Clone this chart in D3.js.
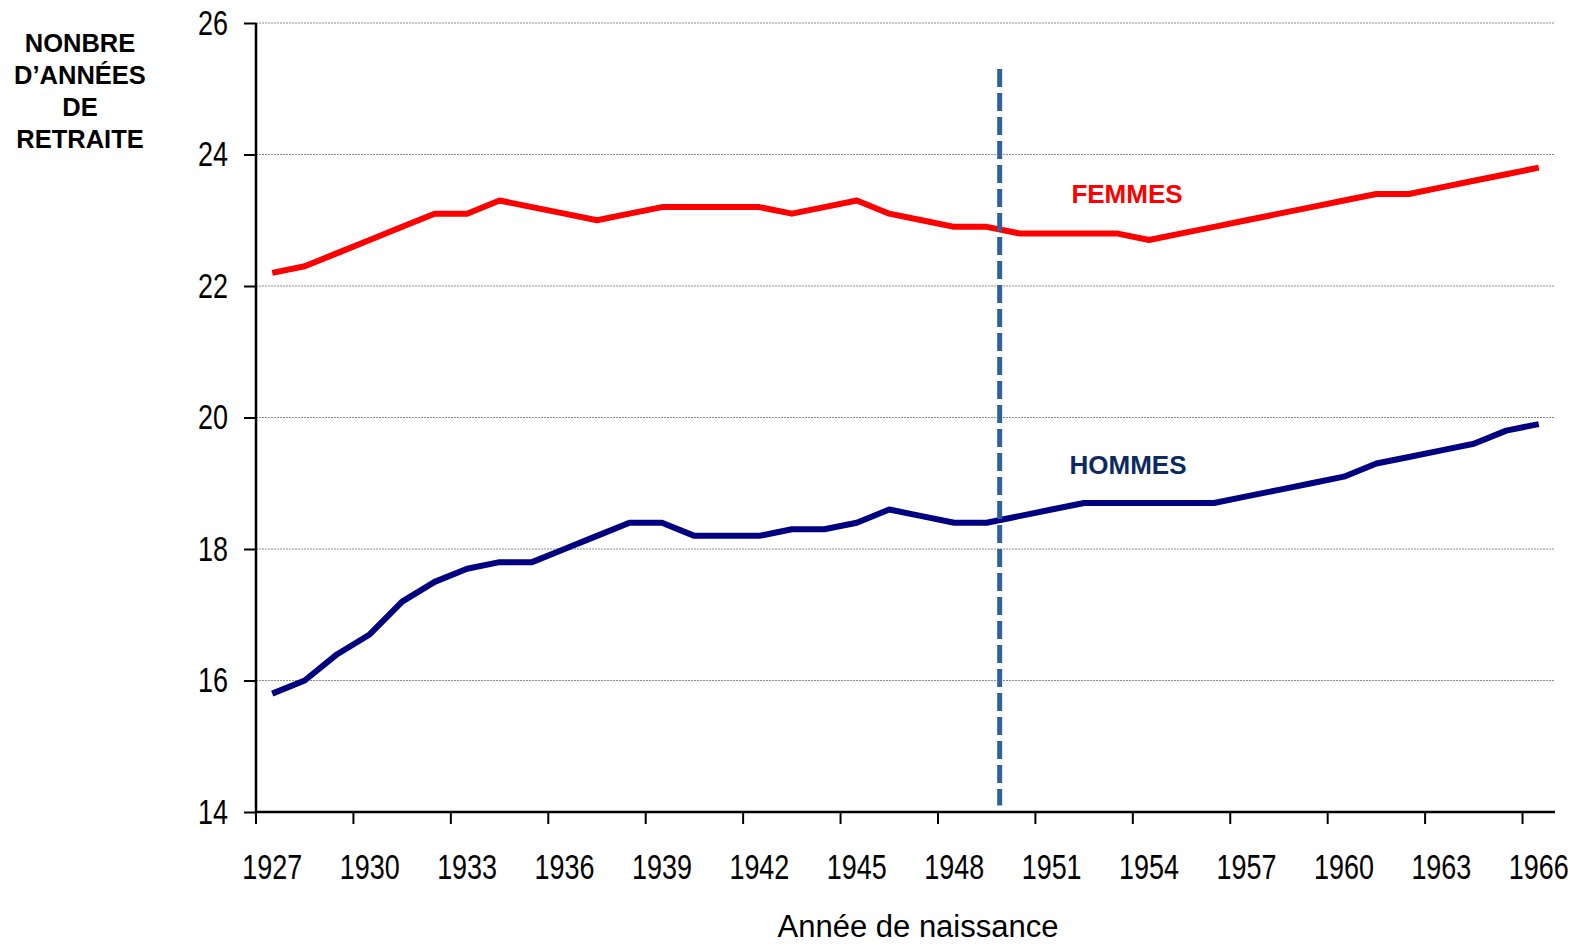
<!DOCTYPE html>
<html>
<head>
<meta charset="utf-8">
<script src="https://cdn.jsdelivr.net/npm/d3@7"></script>
<style>
  body { margin: 0; background: #fff; }
  svg { display: block; }
</style>
</head>
<body>
<div id="chart"></div>
<script>
// data
const years = ["1927","1928","1929","1930","1931","1932","1933","1934","1935","1936",
               "1937","1938","1939","1940","1941","1942","1943","1944","1945","1946",
               "1947","1948","1949","1950","1951","1952","1953","1954","1955","1956",
               "1957","1958","1959","1960","1961","1962","1963","1964","1965","1966"];
const femmes = [22.2, 22.3, 22.5, 22.7, 22.9, 23.1, 23.1, 23.3, 23.2, 23.1,
                23.0, 23.1, 23.2, 23.2, 23.2, 23.2, 23.1, 23.2, 23.3, 23.1,
                23.0, 22.9, 22.9, 22.8, 22.8, 22.8, 22.8, 22.7, 22.8, 22.9,
                23.0, 23.1, 23.2, 23.3, 23.4, 23.4, 23.5, 23.6, 23.7, 23.8];
const hommes = [15.8, 16.0, 16.4, 16.7, 17.2, 17.5, 17.7, 17.8, 17.8, 18.0,
                18.2, 18.4, 18.4, 18.2, 18.2, 18.2, 18.3, 18.3, 18.4, 18.6,
                18.5, 18.4, 18.4, 18.5, 18.6, 18.7, 18.7, 18.7, 18.7, 18.7,
                18.8, 18.9, 19.0, 19.1, 19.3, 19.4, 19.5, 19.6, 19.8, 19.9];
const xTickLabels = ["1927","1930","1933","1936","1939","1942","1945","1948",
                     "1951","1954","1957","1960","1963","1966"];
const yTicks = [14, 16, 18, 20, 22, 24, 26];
const markerYear = "1949";      // dashed separator, just before 1950
const markerRange = [14.1, 25.3];

lineChart();

function lineChart() {

    let margin = { top: 23, right: 18, bottom: 133, left: 256 },
        width = 1573 - margin.left - margin.right,
        height = 945 - margin.top - margin.bottom;

    let svg = d3.select("#chart").append("svg")
        .attr("width", width + margin.left + margin.right)
        .attr("height", height + margin.top + margin.bottom)
        .append("g")
        .attr("transform", "translate(" + margin.left + "," + margin.top + ")");

    let x = d3.scaleBand().domain(years).range([0, width]).padding(0);
    let y = d3.scaleLinear().domain([14, 26]).range([height, 0]);
    let bw = x.bandwidth();
    let squeeze = 0.77;   // tick labels are set in a condensed face

    // gridlines
    svg.append("g")
        .selectAll("line")
        .data(yTicks.slice(1))
        .enter()
        .append("line")
        .attr("x1", 0)
        .attr("x2", width)
        .attr("y1", d => y(d))
        .attr("y2", d => y(d))
        .attr("stroke", "#8a8a8a")
        .attr("stroke-width", 1)
        .attr("stroke-dasharray", "2,1");

    // lines
    let line = d3.line()
        .x((d, i) => x(years[i]) + bw / 2)
        .y(d => y(d));

    svg.append("path")
        .datum(femmes)
        .attr("fill", "none")
        .attr("stroke", "#ff0000")
        .attr("stroke-width", 6)
        .attr("stroke-linejoin", "round")
        .attr("d", line);

    svg.append("path")
        .datum(hommes)
        .attr("fill", "none")
        .attr("stroke", "#000080")
        .attr("stroke-width", 6)
        .attr("stroke-linejoin", "round")
        .attr("d", line);

    // dashed separator
    svg.append("line")
        .attr("x1", x(markerYear) + bw * 0.9)
        .attr("x2", x(markerYear) + bw * 0.9)
        .attr("y1", y(markerRange[1]))
        .attr("y2", y(markerRange[0]))
        .attr("stroke", "#2e6399")
        .attr("stroke-width", 5)
        .attr("stroke-dasharray", "18,6");

    // x axis
    let xAxis = svg.append("g")
        .attr("transform", "translate(0," + height + ")")
        .call(d3.axisBottom(x).tickValues(xTickLabels).tickSize(12).tickPadding(30));
    xAxis.selectAll(".tick line")
        .attr("x1", -bw / 2)
        .attr("x2", -bw / 2)
        .attr("stroke-width", 2);
    xAxis.select(".domain")
        .attr("d", "M0,0H" + width)
        .attr("stroke-width", 2.5);
    xAxis.selectAll("text")
        .attr("transform", "scale(" + squeeze + ",1)")
        .style("font-family", "'Liberation Sans', Arial, sans-serif")
        .style("font-size", "35px")
        .attr("fill", "#000");

    // y axis
    let yAxis = svg.append("g")
        .call(d3.axisLeft(y).tickValues(yTicks).tickSize(12).tickPadding(16));
    yAxis.selectAll(".tick line").attr("stroke-width", 2);
    yAxis.select(".domain")
        .attr("d", "M0," + height + "V0")
        .attr("stroke-width", 2.5);
    yAxis.selectAll("text")
        .attr("x", 0)
        .attr("transform", "translate(-28,0) scale(" + squeeze + ",1)")
        .style("font-family", "'Liberation Sans', Arial, sans-serif")
        .style("font-size", "35px")
        .attr("fill", "#000");

    // axis titles
    svg.append("text")
        .attr("x", 918 - margin.left)
        .attr("y", 937 - margin.top)
        .style("text-anchor", "middle")
        .style("font-family", "'Liberation Sans', Arial, sans-serif")
        .style("font-size", "31px")
        .text("Année de naissance");

    let yTitle = svg.append("text")
        .attr("y", 0)
        .style("text-anchor", "middle")
        .style("font-family", "'Liberation Sans', Arial, sans-serif")
        .style("font-weight", "bold")
        .style("font-size", "25.5px");
    ["NONBRE", "D’ANNÉES", "DE", "RETRAITE"].forEach((t, i) => {
        yTitle.append("tspan")
            .attr("x", 80 - margin.left)
            .attr("y", 52 - margin.top + i * 32)
            .text(t);
    });

    // series labels
    svg.append("text")
        .attr("x", 1127 - margin.left)
        .attr("y", 203 - margin.top)
        .style("text-anchor", "middle")
        .style("font-family", "'Liberation Sans', Arial, sans-serif")
        .style("font-weight", "bold")
        .style("font-size", "26px")
        .attr("fill", "#ff0000")
        .text("FEMMES");

    svg.append("text")
        .attr("x", 1128 - margin.left)
        .attr("y", 474 - margin.top)
        .style("text-anchor", "middle")
        .style("font-family", "'Liberation Sans', Arial, sans-serif")
        .style("font-weight", "bold")
        .style("font-size", "26px")
        .attr("fill", "#0b2a62")
        .text("HOMMES");
}
</script>
</body>
</html>
